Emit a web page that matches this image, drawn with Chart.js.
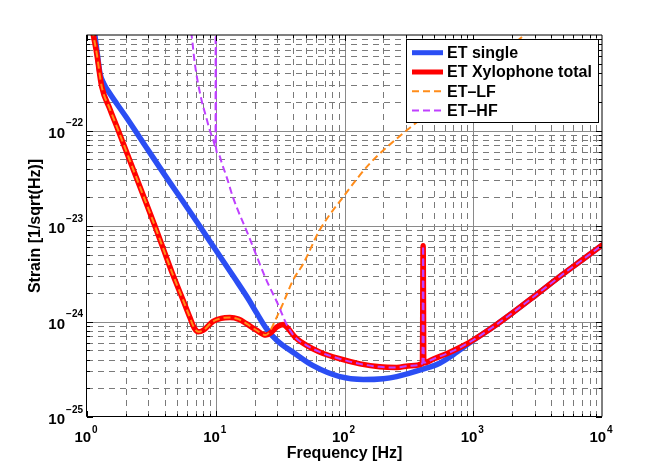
<!DOCTYPE html>
<html><head><meta charset="utf-8">
<script src="https://cdn.jsdelivr.net/npm/chart.js@4/dist/chart.umd.min.js"></script>
<style>html,body{margin:0;padding:0;background:#fff;}canvas{display:block;}</style>
</head><body>
<canvas id="c" width="664" height="470"></canvas>
<script>
// ---- data ----
const singleFreq   = [1.13, 1.15, 1.2, 1.26, 1.35, 1.5, 2.0, 2.9, 4.0, 5.5, 7.5, 10, 14, 18, 21, 24.5, 30, 40, 57, 92, 140, 200, 254, 400, 548, 700, 1000, 1500, 2000, 3000, 5000, 7000, 10000];
const singleStrain = [1.15e-21, 1.0e-21, 6.5e-22, 4.0e-22, 3.1e-22, 2.45e-22, 1.4e-22, 6.6e-23, 3.45e-23, 1.85e-23, 1.0e-23, 5.6e-24, 2.85e-24, 1.7e-24, 1.2e-24, 8.6e-25, 6.3e-25, 4.75e-25, 3.45e-25, 2.65e-25, 2.47e-25, 2.52e-25, 2.65e-25, 3.15e-25, 3.65e-25, 4.5e-25, 6.35e-25, 9.2e-25, 1.22e-24, 1.85e-24, 3.15e-24, 4.4e-24, 6.3e-24];

const xyloFreq   = [1.10, 1.12, 1.19, 1.30, 1.50, 1.75, 2.4, 3.37, 3.91, 4.6, 5.55, 6.3, 6.8, 7.3, 8.0, 9.5, 11, 12.9, 15, 17.3, 20.7, 24.5, 27, 30, 33.4, 36, 42, 50, 64, 90, 132, 188, 254, 330, 403, 408, 413, 500, 621, 800, 1000, 1500, 2000, 3000, 5000, 7000, 10000];
const xyloStrain = [1.15e-21, 1.0e-21, 6.4e-22, 2.9e-22, 1.7e-22, 1.0e-22, 3.3e-23, 1.0e-23, 5.8e-24, 3.2e-24, 1.7e-24, 1.1e-24, 8.6e-25, 7.8e-25, 8.1e-25, 1.0e-24, 1.08e-24, 1.1e-24, 1.06e-24, 9.5e-25, 8.1e-25, 7.2e-25, 7.7e-25, 8.8e-25, 9.3e-25, 8.6e-25, 6.7e-25, 5.7e-25, 4.8e-25, 4.1e-25, 3.6e-25, 3.35e-25, 3.3e-25, 3.45e-25, 3.65e-25, 6.2e-24, 3.7e-25, 4.1e-25, 4.6e-25, 5.4e-25, 6.4e-25, 9.2e-25, 1.22e-24, 1.85e-24, 3.15e-24, 4.4e-24, 6.3e-24];

const lfFreq   = [1.10, 1.12, 1.19, 1.30, 1.50, 1.75, 2.4, 3.37, 3.91, 4.6, 5.55, 6.3, 6.8, 7.3, 8.0, 9.5, 11, 12.9, 15, 17.3, 20.7, 24.5, 26, 28.7, 33, 39.8, 47.7, 64, 100, 157, 284, 340, 600, 1000, 2500, 4000];
const lfStrain = [1.15e-21, 1.0e-21, 6.4e-22, 2.9e-22, 1.7e-22, 1.0e-22, 3.3e-23, 1.0e-23, 5.8e-24, 3.2e-24, 1.7e-24, 1.1e-24, 8.6e-25, 7.8e-25, 8.1e-25, 1.0e-24, 1.08e-24, 1.1e-24, 1.06e-24, 9.5e-25, 8.1e-25, 7.2e-25, 7.7e-25, 1.0e-24, 1.5e-24, 2.7e-24, 4.0e-24, 9.0e-24, 2.1e-23, 4.5e-23, 9.3e-23, 1.13e-22, 2.1e-22, 3.6e-22, 1.0e-21, 1.7e-21];

const hfFreq   = [6.2, 6.49, 6.88, 7.76, 8.4, 9.0, 9.5, 9.96, 10, 10.04, 10.5, 11.3, 12.3, 13.6, 18, 24.8, 30, 36, 42, 50, 64, 90, 132, 188, 254, 330, 403, 408, 413, 500, 621, 800, 1000, 1500, 2000, 3000, 5000, 7000, 10000];
const hfStrain = [1.4e-21, 1.0e-21, 5.0e-22, 2.07e-22, 1.4e-22, 1.0e-22, 8.2e-23, 6.8e-23, 1.0e-18, 6.6e-23, 5.6e-23, 4.3e-23, 3.1e-23, 2.0e-23, 7.9e-24, 2.7e-24, 1.58e-24, 9.0e-25, 6.7e-25, 5.7e-25, 4.8e-25, 4.1e-25, 3.6e-25, 3.35e-25, 3.3e-25, 3.45e-25, 3.65e-25, 6.2e-24, 3.7e-25, 4.1e-25, 4.6e-25, 5.4e-25, 6.4e-25, 9.2e-25, 1.22e-24, 1.85e-24, 3.15e-24, 4.4e-24, 6.3e-24];

const xTickExps = [0, 1, 2, 3, 4];
const yTickExps = [-25, -24, -23, -22];
const yMaxExp = -21;
const seriesLabels = ['ET single', 'ET Xylophone total', 'ET\u2013LF', 'ET\u2013HF'];
const xTitle = 'Frequency [Hz]';
const yTitle = 'Strain [1/sqrt(Hz)]';

// ---- rendering ----
const FONT = '"Liberation Sans", Arial, Helvetica, sans-serif';
const pts = (f, s) => f.map((x, i) => ({x: x, y: s[i]}));

const decorPlugin = {
  id: 'decor',
  beforeDatasetsDraw(chart) {
    const {ctx, chartArea: a, scales: {x, y}} = chart;
    ctx.save();
    ctx.lineWidth = 1;
    for (let e = xTickExps[0]; e < xTickExps[xTickExps.length - 1]; e++) {
      for (let m = 1; m <= 9; m++) {
        if (m === 1 && e === xTickExps[0]) continue;
        const px = Math.round(x.getPixelForValue(m * Math.pow(10, e))) + 0.5;
        ctx.beginPath();
        if (m === 1) { ctx.setLineDash([]); ctx.strokeStyle = '#8a8a8a'; }
        else { ctx.setLineDash([6, 5]); ctx.strokeStyle = '#7a7a7a'; }
        ctx.moveTo(px, a.bottom); ctx.lineTo(px, a.top);
        ctx.stroke();
      }
    }
    for (let e = yTickExps[0]; e < yMaxExp; e++) {
      for (let m = 1; m <= 9; m++) {
        if (m === 1 && e === yTickExps[0]) continue;
        const py = Math.round(y.getPixelForValue(m * Math.pow(10, e))) + 0.5;
        ctx.beginPath();
        if (m === 1) { ctx.setLineDash([]); ctx.strokeStyle = '#8a8a8a'; }
        else { ctx.setLineDash([6, 5]); ctx.strokeStyle = '#7a7a7a'; }
        ctx.moveTo(a.left, py); ctx.lineTo(a.right, py);
        ctx.stroke();
      }
    }
    ctx.restore();
  },
  afterDraw(chart) {
    const {ctx, chartArea: a, scales: {x, y}} = chart;
    ctx.save();
    ctx.setLineDash([]);
    ctx.strokeStyle = '#000'; ctx.lineWidth = 1;
    for (let e = xTickExps[0]; e < xTickExps[xTickExps.length - 1]; e++) {
      for (let m = 1; m <= 9; m++) {
        const px = Math.round(x.getPixelForValue(m * Math.pow(10, e))) + 0.5;
        const L = m === 1 ? 6 : 3;
        ctx.beginPath();
        ctx.moveTo(px, a.bottom); ctx.lineTo(px, a.bottom - L);
        ctx.moveTo(px, a.top); ctx.lineTo(px, a.top + L);
        ctx.stroke();
      }
    }
    for (let e = yTickExps[0]; e < yMaxExp; e++) {
      for (let m = 1; m <= 9; m++) {
        const py = Math.round(y.getPixelForValue(m * Math.pow(10, e))) + 0.5;
        const L = m === 1 ? 6 : 3;
        ctx.beginPath();
        ctx.moveTo(a.left, py); ctx.lineTo(a.left + L, py);
        ctx.moveTo(a.right, py); ctx.lineTo(a.right - L, py);
        ctx.stroke();
      }
    }
    ctx.strokeStyle = '#000';
    ctx.beginPath();
    ctx.moveTo(a.left - 0.5, a.top); ctx.lineTo(a.right, a.top); ctx.lineTo(a.right, a.bottom - 0.5);
    ctx.moveTo(a.left - 0.5, a.top); ctx.lineTo(a.left - 0.5, a.bottom - 0.5); ctx.lineTo(a.right, a.bottom - 0.5);
    ctx.stroke();

    ctx.fillStyle = '#000';
    const big = 'bold 15px ' + FONT, small = 'bold 10px ' + FONT;
    yTickExps.forEach(e => {
      const py = y.getPixelForValue(Math.pow(10, e));
      const ex = '\u2212' + Math.abs(e);
      ctx.font = small; ctx.textAlign = 'right'; ctx.textBaseline = 'alphabetic';
      const we = ctx.measureText(ex).width;
      ctx.fillText(ex, a.left - 4, py - 4.5);
      ctx.font = big;
      ctx.fillText('10', a.left - 5 - we, py + 7);
    });
    xTickExps.forEach(e => {
      const px = x.getPixelForValue(Math.pow(10, e));
      const ex = String(e);
      ctx.font = big; const wb = ctx.measureText('10').width;
      ctx.font = small; const we = ctx.measureText(ex).width;
      const x0 = px - (wb + we + 1) / 2 - 1;
      ctx.textAlign = 'left'; ctx.textBaseline = 'alphabetic';
      ctx.font = big; ctx.fillText('10', x0, a.bottom + 24.7);
      ctx.font = small; ctx.fillText(ex, x0 + wb + 1, a.bottom + 16.3);
    });
    ctx.font = 'bold 16px ' + FONT;
    ctx.textAlign = 'center'; ctx.textBaseline = 'alphabetic';
    ctx.fillText(xTitle, (a.left + a.right) / 2, 457.5);
    ctx.save();
    ctx.translate(39.5, (a.top + a.bottom) / 2);
    ctx.rotate(-Math.PI / 2);
    ctx.fillText(yTitle, 0, 0);
    ctx.restore();

    const bx = 406.5, by = 39.5, bw = 192, bh = 83;
    ctx.fillStyle = '#fff';
    ctx.fillRect(bx, by, bw, bh);
    ctx.strokeStyle = '#000'; ctx.lineWidth = 1;
    ctx.strokeRect(bx, by, bw, bh);
    chart.data.datasets.forEach((ds, i) => {
      const ly = 52.7 + i * 19.3;
      ctx.save();
      ctx.strokeStyle = ds.borderColor;
      ctx.lineWidth = ds.borderDash ? 2 : 5;
      ctx.setLineDash(ds.borderDash || []);
      ctx.lineCap = 'butt';
      ctx.beginPath(); ctx.moveTo(412, ly); ctx.lineTo(443, ly); ctx.stroke();
      ctx.restore();
      ctx.fillStyle = '#000';
      ctx.font = 'bold 16px ' + FONT;
      ctx.textAlign = 'left'; ctx.textBaseline = 'middle';
      ctx.fillText(ds.label, 447, ly + 1);
    });
    ctx.restore();
  }
};

const common = {pointRadius: 0, pointHoverRadius: 0, fill: false, cubicInterpolationMode: 'monotone', clip: 0};

new Chart(document.getElementById('c'), {
  type: 'line',
  data: {
    datasets: [
      Object.assign({label: seriesLabels[0], data: pts(singleFreq, singleStrain), borderColor: '#2b4ef4', borderWidth: 5.5, borderJoinStyle: 'round', borderCapStyle: 'round', order: 4}, common),
      Object.assign({label: seriesLabels[1], data: pts(xyloFreq, xyloStrain), borderColor: '#ff0000', borderWidth: 5.5, borderJoinStyle: 'round', borderCapStyle: 'round', order: 3}, common),
      Object.assign({label: seriesLabels[2], data: pts(lfFreq, lfStrain), borderColor: '#ff8c1a', borderWidth: 2, borderDash: [7, 4], order: 2}, common),
      Object.assign({label: seriesLabels[3], data: pts(hfFreq, hfStrain), borderColor: '#bf40ff', borderWidth: 2, borderDash: [7, 4], order: 1}, common)
    ]
  },
  options: {
    responsive: false,
    animation: false,
    devicePixelRatio: 1,
    layout: {padding: {left: 87, right: 62, top: 35, bottom: 53}},
    scales: {
      x: {type: 'logarithmic', min: Math.pow(10, xTickExps[0]), max: Math.pow(10, xTickExps[xTickExps.length - 1]), display: false},
      y: {type: 'logarithmic', min: Math.pow(10, yTickExps[0]), max: Math.pow(10, yMaxExp), display: false}
    },
    plugins: {legend: {display: false}, tooltip: {enabled: false}}
  },
  plugins: [decorPlugin]
});
</script>
</body></html>
